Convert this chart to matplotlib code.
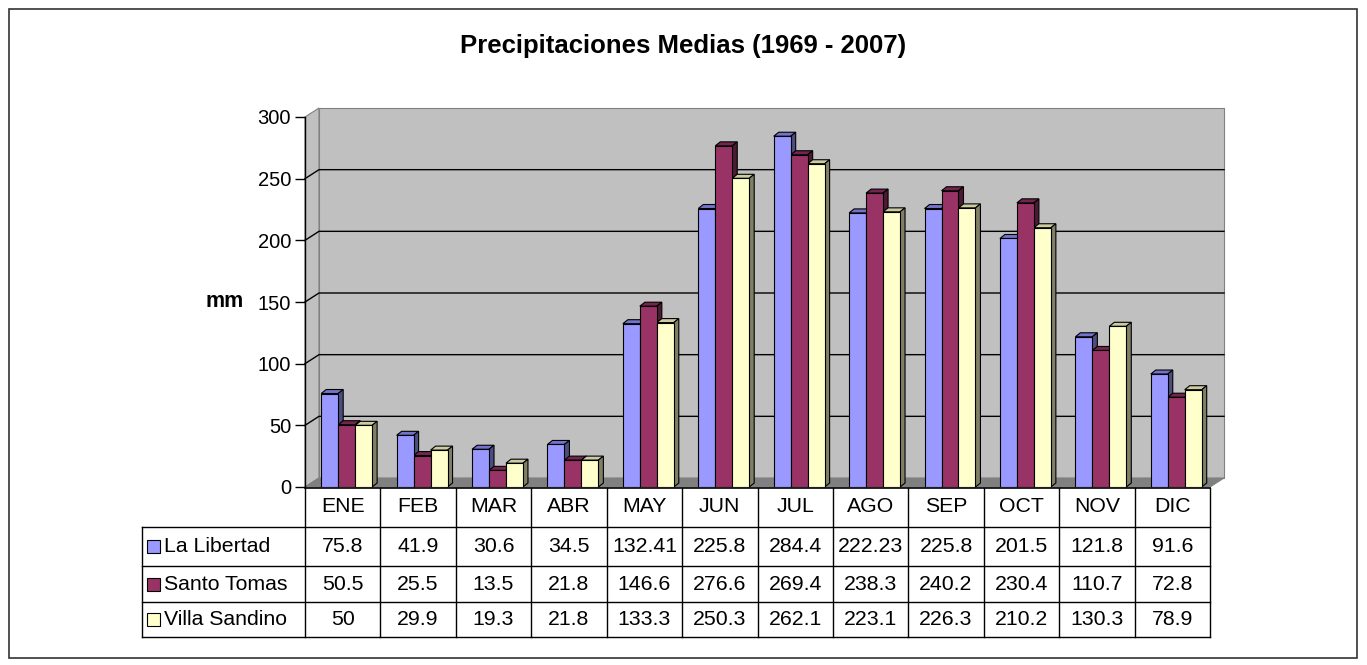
import numpy as np
import matplotlib.pyplot as plt
from matplotlib.patches import Polygon, Rectangle
from matplotlib.lines import Line2D
from matplotlib.transforms import blended_transform_factory

plt.rcParams['font.family'] = ['Liberation Sans', 'DejaVu Sans']

# data
months = ['ENE', 'FEB', 'MAR', 'ABR', 'MAY', 'JUN', 'JUL', 'AGO', 'SEP', 'OCT', 'NOV', 'DIC']
stations = ['La Libertad', 'Santo Tomas', 'Villa Sandino']
la_libertad = [75.8, 41.9, 30.6, 34.5, 132.41, 225.8, 284.4, 222.23, 225.8, 201.5, 121.8, 91.6]
santo_tomas = [50.5, 25.5, 13.5, 21.8, 146.6, 276.6, 269.4, 238.3, 240.2, 230.4, 110.7, 72.8]
villa_sandino = [50, 29.9, 19.3, 21.8, 133.3, 250.3, 262.1, 223.1, 226.3, 210.2, 130.3, 78.9]
labels = [['75.8', '41.9', '30.6', '34.5', '132.41', '225.8', '284.4', '222.23', '225.8', '201.5', '121.8', '91.6'],
          ['50.5', '25.5', '13.5', '21.8', '146.6', '276.6', '269.4', '238.3', '240.2', '230.4', '110.7', '72.8'],
          ['50', '29.9', '19.3', '21.8', '133.3', '250.3', '262.1', '223.1', '226.3', '210.2', '130.3', '78.9']]
series = [la_libertad, santo_tomas, villa_sandino]

front = ['#9999FF', '#993366', '#FFFFCC']
top = ['#7373CC', '#73264D', '#CCCCA3']
side = ['#4D4D80', '#4D1A33', '#808066']

W, H = 1367, 665
fig = plt.figure(figsize=(W / 100, H / 100), dpi=100)
ax = fig.add_axes([305 / W, (H - 487) / H, 905 / W, 370 / H])
ax.set_xlim(0, 12)
ax.set_ylim(0, 300)
ax.patch.set_visible(False)
for s in ['top', 'right', 'bottom']:
    ax.spines[s].set_visible(False)
ax.spines['left'].set_linewidth(1.0)

xu = 905 / 12      # px per category
yu = 370 / 300     # px per mm
wdx, wdy = 14 / xu, 9 / yu     # wall depth
bdx, bdy = 5 / xu, 4 / yu      # bar depth

# walls and floor
ax.add_patch(Polygon([(0, 0), (wdx, wdy), (wdx, 300 + wdy), (0, 300)], closed=True,
                     fc='#C0C0C0', ec='#808080', lw=0.8, clip_on=False, zorder=0))
ax.add_patch(Polygon([(wdx, wdy), (12 + wdx, wdy), (12 + wdx, 300 + wdy), (wdx, 300 + wdy)], closed=True,
                     fc='#C0C0C0', ec='#808080', lw=0.8, clip_on=False, zorder=0))
ax.add_patch(Polygon([(0, 0), (12, 0), (12 + wdx, wdy), (wdx, wdy)], closed=True,
                     fc='#808080', ec='#808080', lw=0.8, clip_on=False, zorder=0.5))
for g in range(50, 300, 50):
    ax.plot([0, wdx, 12 + wdx], [g, g + wdy, g + wdy], color='black', lw=1.0, clip_on=False, zorder=0.6)

# bars
bw = 0.225
off = 0.215
x = np.arange(12)
for k in range(3):
    xs = x + off + k * bw
    ax.bar(xs, series[k], width=bw, align='edge', color=front[k], edgecolor='black', lw=0.8, zorder=3)
    for xi, v in zip(xs, series[k]):
        ax.add_patch(Polygon([(xi, v), (xi + bw, v), (xi + bw + bdx, v + bdy), (xi + bdx, v + bdy)],
                             closed=True, fc=top[k], ec='black', lw=0.8, zorder=2.9, clip_on=False))
        ax.add_patch(Polygon([(xi + bw, 0), (xi + bw + bdx, bdy), (xi + bw + bdx, v + bdy), (xi + bw, v)],
                             closed=True, fc=side[k], ec='black', lw=0.8, zorder=2.9, clip_on=False))

ax.set_yticks(range(0, 301, 50))
ax.set_xticks([])
ax.tick_params(axis='y', length=7, width=1.0, labelsize=14.5, pad=3)

# data table
tr = blended_transform_factory(ax.transData, ax.transAxes)
def fy(px):
    return (487 - px) / 370
xl = (142 - 305) / xu
rows = [488, 527, 566, 602, 637]
for r in rows[1:]:
    ax.add_line(Line2D([xl, 12], [fy(r), fy(r)], transform=tr, color='black', lw=1.0, clip_on=False))
ax.add_line(Line2D([0, 12], [fy(488), fy(488)], transform=tr, color='black', lw=1.2, clip_on=False))
ax.add_line(Line2D([xl, xl], [fy(527), fy(637)], transform=tr, color='black', lw=1.0, clip_on=False))
for c in range(13):
    ax.add_line(Line2D([c, c], [fy(488), fy(637)], transform=tr, color='black', lw=1.0, clip_on=False))

for c, m in enumerate(months):
    ax.text(c + 0.5, fy(506), m, transform=tr, ha='center', va='center', fontsize=15.3)
for r in range(3):
    yc = fy((rows[r + 1] + rows[r + 2]) / 2)
    for c in range(12):
        ax.text(c + 0.5, yc, labels[r][c], transform=tr, ha='center', va='center', fontsize=15.3)
    ax.add_patch(Rectangle(((147 - 305) / xu, yc - 6.5 / 370), 13 / xu, 13 / 370, transform=tr,
                           fc=front[r], ec='black', lw=0.8, clip_on=False))
    ax.text((164 - 305) / xu, yc, stations[r], transform=tr, ha='left', va='center', fontsize=15.3)

fig.text(683 / W, 1 - 46 / H, 'Precipitaciones Medias (1969 - 2007)', ha='center', va='center',
         fontsize=18.5, fontweight='bold')
fig.text(225 / W, 1 - 302 / H, 'mm', ha='center', va='center', fontsize=15.5, fontweight='bold')

fig.add_artist(Rectangle((9 / W, 7 / H), 1348 / W, 649 / H, transform=fig.transFigure,
                         fill=False, ec='#333333', lw=1.2))

fig.savefig('out.png', dpi=100)
